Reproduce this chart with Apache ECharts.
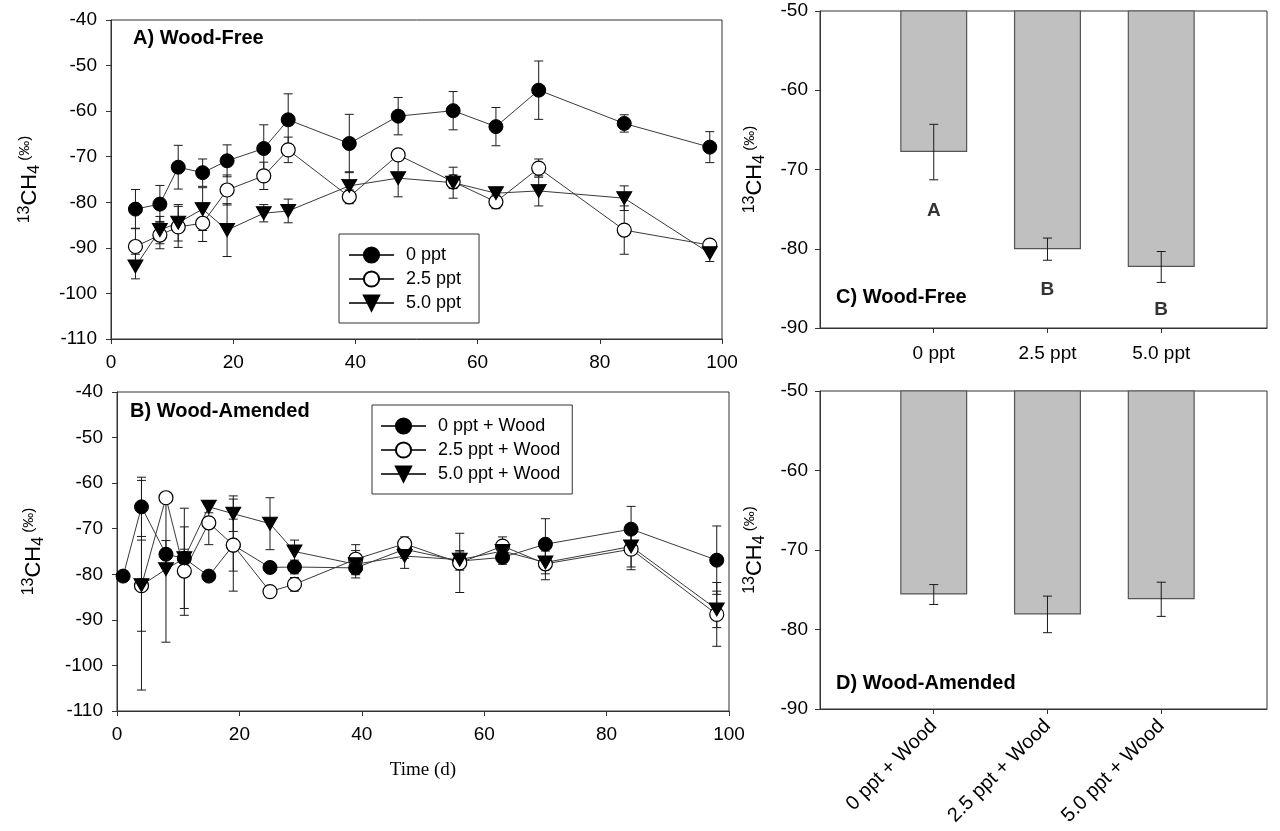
<!DOCTYPE html>
<html><head><meta charset="utf-8">
<script src="https://cdn.jsdelivr.net/npm/echarts@6/dist/echarts.min.js"></script>
<style>html,body{margin:0;padding:0;background:#fff}#c{width:1280px;height:831px}</style>
</head><body><div id="c"></div><script>
// ---------- Data ----------
// Panel A (Wood-Free), time in days
const daysA = [4, 8, 11, 15, 19, 25, 29, 39, 47, 56, 63, 70, 84, 98];
const a0 = [-81.5, -80.4, -72.3, -73.5, -70.9, -68.2, -61.9, -67.1, -61.1, -59.9, -63.4, -55.4, -62.7, -67.9];
const a0Err = [4.3, 4.1, 4.8, 3.0, 3.5, 5.2, 5.7, 6.4, 4.1, 4.2, 4.2, 6.4, 1.9, 3.4];
const a25 = [-89.7, -87.2, -85.4, -84.6, -77.3, -74.2, -68.5, -78.8, -69.6, -75.5, -79.9, -72.5, -86.1, -89.4];
const a25Err = [4.0, 3.0, 4.5, 4.0, 3.3, 3.0, 2.8, 1.5, 1.0, 1.5, 1.5, 2.0, 5.3, 1.0];
const a50 = [-94.1, -86.1, -84.5, -81.5, -86.1, -82.4, -81.9, -76.4, -74.7, -75.7, -78.0, -77.5, -79.1, -91.2];
const a50Err = [2.7, 3.0, 4.0, 4.7, 5.8, 1.9, 2.6, 3.1, 4.1, 3.4, 1.0, 3.3, 2.7, 1.8];
// Panel B (Wood-Amended)
const daysB0 = [1, 4, 8, 11, 15, 19, 25, 29, 39, 47, 56, 63, 70, 84, 98];
const b0 = [-80.4, -65.2, -75.6, -76.5, -80.4, -73.6, -78.5, -78.4, -78.6, -74.5, -77.1, -76.3, -73.4, -70.1, -76.9];
const b0Err = [0.5, 6.5, 3.0, 2.0, 1.0, 5.7, 1.0, 1.5, 1.5, 2.0, 2.0, 1.5, 5.6, 5.0, 7.5];
const daysB = [4, 8, 11, 15, 19, 25, 29, 39, 47, 56, 63, 70, 84, 98];
const b25 = [-82.5, -63.2, -79.3, -68.7, -73.6, -83.8, -82.2, -76.7, -73.3, -77.5, -73.8, -77.7, -74.5, -88.8];
const b25Err = [10.0, 1.0, 9.7, 4.8, 10.1, 1.0, 1.5, 3.2, 1.5, 6.5, 2.0, 3.5, 4.5, 7.0];
const b50 = [-82.4, -78.9, -76.5, -65.2, -66.7, -68.9, -75.0, -77.8, -76.0, -76.8, -74.9, -77.4, -73.9, -87.7];
const b50Err = [23.0, 16.0, 11.0, 1.3, 3.9, 5.7, 2.5, 3.0, 2.7, 2.0, 1.5, 2.5, 4.5, 4.0];
// Panel C (Wood-Free means)
const catsC = ['0 ppt', '2.5 ppt', '5.0 ppt'];
const barsC = [-67.8, -80.05, -82.3];
const errC = [3.5, 1.4, 1.95];
const lettersC = ['A', 'B', 'B'];
const letterYC = [-75.2, -85.2, -87.7];
// Panel D (Wood-Amended means)
const catsD = ['0 ppt + Wood', '2.5 ppt + Wood', '5.0 ppt + Wood'];
const barsD = [-75.6, -78.1, -76.2];
const errD = [1.25, 2.3, 2.15];
// Axis ticks
const yTicksLine = [-110, -40, 10];
const yTicksBar = [-90, -50, 10];
const xTicksTime = [0, 100, 20];

// ---------- Helpers ----------
const F = '"Liberation Sans", Arial, sans-serif';
const zip = (xs, ys) => xs.map((x, i) => [x, ys[i]]);
const zip3 = (xs, ys, es) => xs.map((x, i) => [x, ys[i], es[i]]);
const TRI = 'path://M0,0L20,0L10,17Z';

function errRender(params, api) {
  const x = api.value(0), y = api.value(1), e = api.value(2);
  const hi = api.coord([x, y + e]), lo = api.coord([x, y - e]);
  const hw = 4.5;
  const st = { stroke: '#1a1a1a', lineWidth: 1 };
  return { type: 'group', children: [
    { type: 'line', shape: { x1: hi[0], y1: hi[1], x2: lo[0], y2: lo[1] }, style: st },
    { type: 'line', shape: { x1: hi[0] - hw, y1: hi[1], x2: hi[0] + hw, y2: hi[1] }, style: st },
    { type: 'line', shape: { x1: lo[0] - hw, y1: lo[1], x2: lo[0] + hw, y2: lo[1] }, style: st }
  ]};
}
function errSeries(ax, xs, ys, es, z) {
  return { type: 'custom', xAxisIndex: ax, yAxisIndex: ax, renderItem: errRender,
    data: zip3(xs, ys, es), encode: { x: 0, y: 1 }, z: z || 2, silent: true };
}
function lineSeries(name, ax, xs, ys, kind) {
  const s = { name, type: 'line', xAxisIndex: ax, yAxisIndex: ax, data: zip(xs, ys),
    symbolSize: 14, lineStyle: { color: '#3a3a3a', width: 1 }, z: 3,
    itemStyle: { color: '#000', borderColor: '#000', borderWidth: 1 } };
  if (kind === 'open') { s.symbol = 'circle'; s.itemStyle = { color: '#fff', borderColor: '#000', borderWidth: 1.2 }; }
  else if (kind === 'tri') { s.symbol = TRI; s.symbolSize = [15, 13]; }
  else { s.symbol = 'circle'; }
  return s;
}

const yName = '{sup|13}{m|CH}{sub|4}{sm| (‰)}';
const nameRich = {
  sup: { fontSize: 16, verticalAlign: 'top', lineHeight: 16, fontFamily: F, color: '#000' },
  m: { fontSize: 22, lineHeight: 26, fontFamily: F, color: '#000' },
  sub: { fontSize: 16, verticalAlign: 'bottom', lineHeight: 16, fontFamily: F, color: '#000' },
  sm: { fontSize: 15, verticalAlign: 'top', lineHeight: 16, fontFamily: F, color: '#000' }
};
const axLine = { lineStyle: { color: '#333', width: 1 } };
const lbl = { fontSize: 19, fontFamily: F, color: '#000' };

function yAxisLine(gi, gap) {
  return { gridIndex: gi, type: 'value', min: yTicksLine[0], max: yTicksLine[1], interval: yTicksLine[2],
    axisLine: { show: true, ...axLine }, axisTick: { show: true, length: 5, lineStyle: { color: '#333' } },
    axisLabel: { ...lbl, margin: 14 }, splitLine: { show: false },
    name: yName, nameLocation: 'middle', nameGap: gap, nameTextStyle: { rich: nameRich } };
}
function yAxisBar(gi, gap) {
  return { gridIndex: gi, type: 'value', min: yTicksBar[0], max: yTicksBar[1], interval: yTicksBar[2],
    axisLine: { show: true, ...axLine }, axisTick: { show: true, length: 5, lineStyle: { color: '#333' } },
    axisLabel: { ...lbl, margin: 12 }, splitLine: { show: false },
    name: yName, nameLocation: 'middle', nameGap: gap, nameTextStyle: { rich: nameRich } };
}
function xAxisTime(gi, extra) {
  return Object.assign({ gridIndex: gi, type: 'value', min: xTicksTime[0], max: xTicksTime[1], interval: xTicksTime[2],
    axisLine: { show: true, onZero: false, ...axLine }, axisTick: { show: true, length: 5, lineStyle: { color: '#333' } },
    axisLabel: { ...lbl, margin: 14 }, splitLine: { show: false } }, extra || {});
}
const catPos = catsC.map((_, i) => i + 1);
function xAxisBar(gi, cats, rot) {
  return { gridIndex: gi, type: 'value', min: 0, max: 3.93,
    axisLine: { show: true, onZero: false, ...axLine },
    axisTick: { show: true, length: 5, customValues: catPos, lineStyle: { color: '#333' } },
    axisLabel: { ...lbl, fontSize: rot ? 20 : 19, customValues: catPos, rotate: rot, margin: rot ? 14 : 16,
      formatter: v => cats[Math.round(v) - 1] || '' },
    splitLine: { show: false } };
}
function barSeries(ax, vals) {
  return { type: 'bar', xAxisIndex: ax, yAxisIndex: ax, data: zip(catPos, vals), barWidth: 67,
    itemStyle: { color: '#c0c0c0', borderColor: '#555', borderWidth: 1.2 }, z: 2, silent: true };
}
const grid = (l, t, w, h) => ({ left: l, top: t, width: w, height: h, show: true,
  borderColor: '#333', borderWidth: 1, backgroundColor: 'transparent' });
const titleStyle = { fontSize: 20, fontWeight: 'bold', fontFamily: F, color: '#000' };
const legendBase = { orient: 'vertical', itemWidth: 45, itemHeight: 19, itemGap: 6,
  backgroundColor: '#fff', borderColor: '#333', borderWidth: 1,
  textStyle: { fontSize: 18, fontFamily: F, color: '#000', padding: [0, 0, 0, 7] } };

const option = {
  animation: false,
  backgroundColor: '#fff',
  title: [
    { text: 'A) Wood-Free', left: 133, top: 28, padding: 0, textStyle: titleStyle },
    { text: 'B) Wood-Amended', left: 130, top: 401, padding: 0, textStyle: titleStyle },
    { text: 'C) Wood-Free', left: 836, top: 287, padding: 0, textStyle: titleStyle },
    { text: 'D) Wood-Amended', left: 836, top: 673, padding: 0, textStyle: titleStyle }
  ],
  legend: [
    Object.assign({}, legendBase, { left: 339, top: 234, padding: [12, 18, 11, 9],
      data: ['0 ppt', '2.5 ppt', '5.0 ppt'] }),
    Object.assign({}, legendBase, { left: 372, top: 405, padding: [12, 12, 11, 8],
      data: ['0 ppt + Wood', '2.5 ppt + Wood', '5.0 ppt + Wood'] })
  ],
  grid: [grid(111, 20, 611, 319), grid(117, 392, 612, 319), grid(820, 11, 447, 317), grid(820, 391, 447, 318)],
  xAxis: [
    xAxisTime(0),
    xAxisTime(1, { name: 'Time (d)', nameLocation: 'middle', nameGap: 50,
      nameTextStyle: { fontFamily: '"Liberation Serif", "Times New Roman", serif', fontSize: 19, color: '#000' } }),
    xAxisBar(2, catsC, 0),
    xAxisBar(3, catsD, 45)
  ],
  yAxis: [yAxisLine(0, 68), yAxisLine(1, 70), yAxisBar(2, 52), yAxisBar(3, 52)],
  series: [
    errSeries(0, daysA, a0, a0Err), errSeries(0, daysA, a25, a25Err), errSeries(0, daysA, a50, a50Err),
    lineSeries('0 ppt', 0, daysA, a0, 'fill'),
    lineSeries('2.5 ppt', 0, daysA, a25, 'open'),
    lineSeries('5.0 ppt', 0, daysA, a50, 'tri'),
    errSeries(1, daysB0, b0, b0Err), errSeries(1, daysB, b25, b25Err), errSeries(1, daysB, b50, b50Err),
    lineSeries('0 ppt + Wood', 1, daysB0, b0, 'fill'),
    lineSeries('2.5 ppt + Wood', 1, daysB, b25, 'open'),
    lineSeries('5.0 ppt + Wood', 1, daysB, b50, 'tri'),
    barSeries(2, barsC), errSeries(2, catPos, barsC, errC, 6),
    { type: 'scatter', xAxisIndex: 2, yAxisIndex: 2, data: zip(catPos, letterYC), symbolSize: 1,
      itemStyle: { color: 'transparent' }, silent: true, z: 7,
      label: { show: true, position: 'inside', formatter: p => lettersC[p.dataIndex],
        fontSize: 19, fontWeight: 'bold', fontFamily: F, color: '#000' } },
    barSeries(3, barsD), errSeries(3, catPos, barsD, errD, 6)
  ]
};
const chart = echarts.init(document.getElementById('c'), null, { renderer: 'canvas' });
chart.setOption(option);
</script></body></html>
